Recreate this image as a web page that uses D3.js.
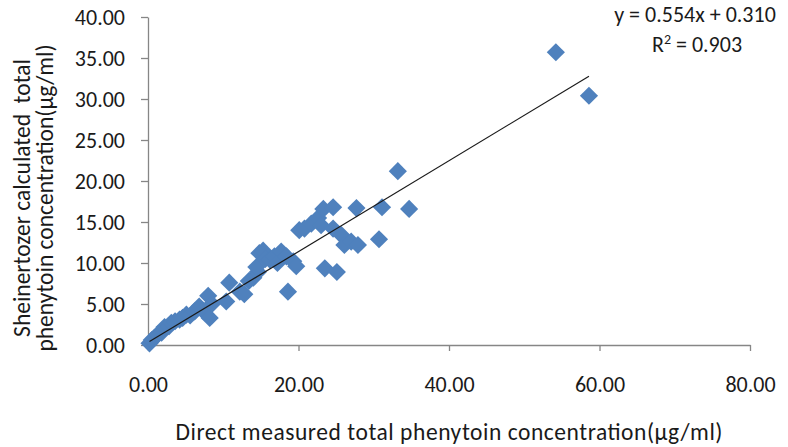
<!DOCTYPE html>
<html>
<head>
<meta charset="utf-8">
<script src="https://cdn.jsdelivr.net/npm/d3@7"></script>
<style>
  body { margin: 0; background: #fff; }
  text { font-family: Calibri, Carlito, "Liberation Sans", Arial, sans-serif; fill: #1a1a1a; }
</style>
</head>
<body>
<svg width="788" height="447"></svg>
<script>
// measured (x) vs calculated (y) phenytoin
var measured = [0.2, 0.5, 0.8, 1.3, 1.8, 2.2, 2.8, 3.1, 3.6, 4.2, 4.6, 5.1, 5.6, 6.2, 6.8, 7.3, 8.0, 8.2, 8.5,
  10.4, 10.8, 12.2, 12.8, 13.4, 14.0, 14.6, 14.4, 14.8, 15.3, 15.6, 16.2, 16.8, 17.2, 17.7, 18.4, 18.6, 19.3, 19.7,
  20.1, 20.8, 21.7, 22.6, 23.0, 23.3, 24.6, 24.6, 25.7, 26.1, 27.0, 27.9, 27.7, 23.5, 25.1, 30.7, 31.1, 34.7,
  33.2, 54.2, 58.6];
var calculated = [0.2, 0.6, 0.8, 1.3, 1.5, 2.2, 2.3, 2.7, 2.9, 3.1, 3.3, 3.7, 3.6, 4.1, 4.7, 4.2, 6.0, 3.3, 5.0,
  5.3, 7.6, 6.5, 6.2, 7.8, 8.2, 8.9, 9.5, 11.2, 11.5, 10.5, 10.4, 10.8, 10.0, 11.4, 10.8, 6.5, 10.2, 9.6,
  14.0, 14.2, 14.8, 15.5, 14.6, 16.6, 16.8, 14.2, 13.4, 12.2, 12.6, 12.2, 16.7, 9.35, 8.9, 12.9, 16.8, 16.6,
  21.2, 35.7, 30.4];

var xTicks = [0, 20, 40, 60, 80];
var yTicks = [0, 5, 10, 15, 20, 25, 30, 35, 40];

// trendline shown in the chart
var slope = 0.554, intercept = 0.310;
var eqLabel = "y = 0.554x + 0.310";
var r2Value = "0.903";

var svg = d3.select("svg"),
    width = +svg.attr("width"),
    height = +svg.attr("height");

var x = d3.scaleLinear().domain([0, 80]).range([148, 750]);
var y = d3.scaleLinear().domain([0, 40]).range([345, 17]);

var axisColor = "#868686";

// y axis
svg.append("g")
    .attr("transform", "translate(" + x(0) + ",0)")
    .call(d3.axisLeft(y).tickValues(yTicks).tickFormat(d3.format(".2f")).tickSize(7).tickPadding(16).tickSizeOuter(0));

// x axis
svg.append("g")
    .attr("transform", "translate(0," + y(0) + ")")
    .call(d3.axisBottom(x).tickValues(xTicks).tickFormat(d3.format(".2f")).tickSize(6).tickPadding(25).tickSizeOuter(0));

svg.selectAll(".domain, .tick line").attr("stroke", axisColor).attr("stroke-width", 1.3);
svg.selectAll(".tick text").style("font-size", "22px").attr("fill", "#1a1a1a");

// markers
var pts = measured.map(function(d, i){ return [d, calculated[i]] });
svg.append("g")
  .selectAll("path")
  .data(pts)
  .enter().append("path")
    .attr("d", d3.symbol().type(d3.symbolSquare).size(165))
    .attr("transform", function(d){ return "translate(" + x(d[0]) + "," + y(d[1]) + ") rotate(45)" })
    .attr("fill", "#4f81bd");

// linear trendline across the data range
var x0 = d3.min(measured), x1 = d3.max(measured);
svg.append("line")
    .attr("x1", x(x0)).attr("y1", y(slope * x0 + intercept))
    .attr("x2", x(x1)).attr("y2", y(slope * x1 + intercept))
    .attr("stroke", "#1a1a1a")
    .attr("stroke-width", 1.2);

// equation
svg.append("text")
    .attr("x", 695).attr("y", 22)
    .attr("text-anchor", "middle")
    .style("font-size", "22px")
    .text(eqLabel);
var r2 = svg.append("text")
    .attr("x", 697).attr("y", 52)
    .attr("text-anchor", "middle")
    .style("font-size", "22px");
r2.append("tspan").text("R");
r2.append("tspan").attr("dy", -8).style("font-size", "14px").text("2");
r2.append("tspan").attr("dy", 8).text(" = " + r2Value);

// axis titles
svg.append("text")
    .attr("x", (x(0) + x(80)) / 2).attr("y", 440)
    .attr("text-anchor", "middle")
    .attr("textLength", 547)
    .attr("lengthAdjust", "spacing")
    .style("font-size", "23.5px")
    .text("Direct measured total phenytoin concentration(\u00b5g/ml)");

var yt = svg.append("text")
    .attr("transform", "translate(0,198) rotate(-90)")
    .attr("text-anchor", "middle")
    .style("font-size", "23.5px")
    .style("white-space", "pre");
yt.append("tspan").attr("x", 0).attr("y", 30).text("Sheinertozer calculated  total");
yt.append("tspan").attr("x", 0).attr("y", 53).text("phenytoin concentration(\u00b5g/ml)");
</script>
</body>
</html>
